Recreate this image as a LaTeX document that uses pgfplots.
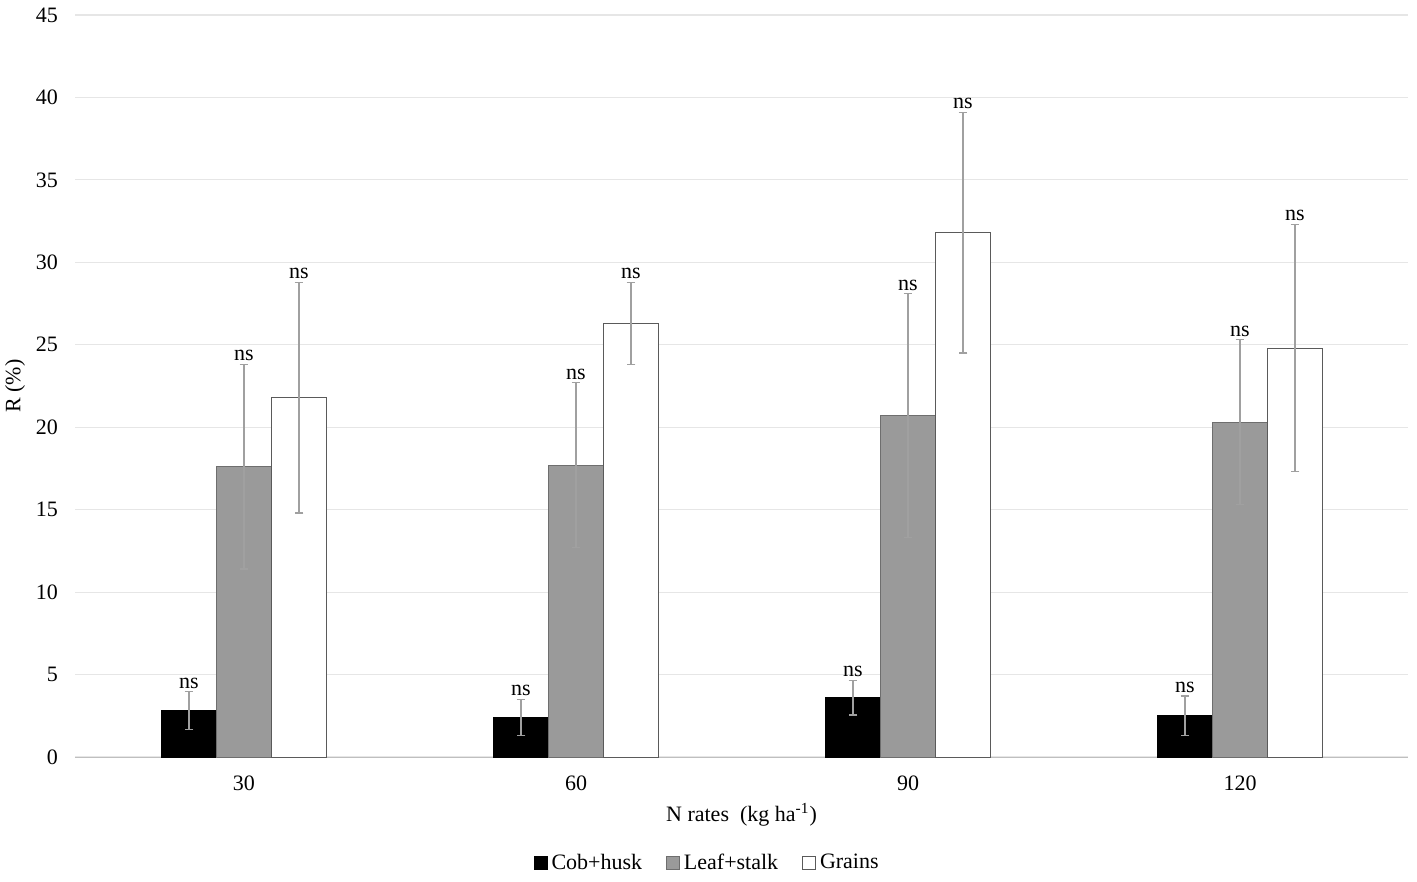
\documentclass[border=0pt]{standalone}
\usepackage{pgfplots}
\pgfplotsset{compat=1.18}
\usepackage{fontspec}
\setmainfont{Liberation Serif}

\definecolor{barGray}{HTML}{9A9A9A}
\definecolor{edgeGray}{HTML}{6E6E6E}
\definecolor{whiteEdge}{HTML}{5A5A5A}
\definecolor{errGray}{HTML}{A0A0A0}
\definecolor{gridGray}{HTML}{E6E6E6}

% x = N rate index, y = R (%), e = error
\pgfplotstableread{
x y e
0 2.8 1.15
1 2.4 1.1
2 3.6 1.05
3 2.5 1.2
}\cobhusk
\pgfplotstableread{
x y e
0 17.6 6.2
1 17.7 5.0
2 20.7 7.4
3 20.3 5.0
}\leafstalk
\pgfplotstableread{
x y e
0 21.8 7.0
1 26.3 2.5
2 31.8 7.3
3 24.8 7.5
}\grains

\begin{document}
\begin{tikzpicture}
\useasboundingbox (-37.5pt,-62.5pt) rectangle (671pt,378.5pt);
\begin{axis}[
    at={(0,0)}, anchor=south west,
    scale only axis,
    width=666.5pt, height=371pt,
    font=\fontsize{11}{13}\selectfont,
    ybar=0pt, bar width=27.5pt,
    xmin=-0.509, xmax=3.506,
    ymin=0, ymax=45,
    xtick={0,1,2,3},
    xticklabels={30,60,90,120},
    ytick={0,5,...,45},
    major tick length=0pt,
    axis x line*=bottom,
    axis y line*=left,
    x axis line style={-, draw=gray!50},
    y axis line style={draw=none},
    ymajorgrids=true,
    grid style={gridGray, line width=0.6pt},
    yticklabel style={xshift=-5pt},
    xticklabel style={yshift=-6pt},
    xlabel={N rates\ \ (kg ha\textsuperscript{-1})},
    ylabel={R (\%)},
    xlabel style={at={(0.5,-0.078)}, anchor=center},
    ylabel style={at={(-0.045,0.5)}, anchor=center},
    /pgf/number format/assume math mode=true,
    legend columns=3,
    legend style={draw=none, at={(0.475,-0.143)}, anchor=center,
        /tikz/every even column/.append style={column sep=10pt}},
    legend image code/.code={\draw[#1] (0pt,-3.2pt) rectangle (6.5pt,3.2pt);},
    nodes near coords={ns},
    visualization depends on={\thisrow{e}\as\err},
    every node near coord/.append style={black, anchor=south, inner sep=1.5pt,
        shift={(axis direction cs:0,\err)}},
    error bars/y dir=both,
    error bars/y explicit,
    error bars/error bar style={errGray, line width=0.6pt},
    error bars/error mark options={rotate=90, mark size=2.2pt, errGray, line width=0.6pt},
]
\addplot[fill=black, draw=black] table[x=x, y=y, y error=e] {\cobhusk};
\addlegendentry{Cob+husk}
\addplot[fill=barGray, draw=edgeGray] table[x=x, y=y, y error=e] {\leafstalk};
\addlegendentry{Leaf+stalk}
\addplot[fill=white, draw=whiteEdge] table[x=x, y=y, y error=e] {\grains};
\addlegendentry{Grains}
\end{axis}
\end{tikzpicture}
\end{document}
